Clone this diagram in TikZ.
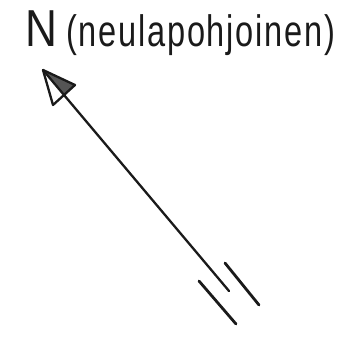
\documentclass[tikz,border=0pt]{standalone}
\usepackage{fontspec}
\setmainfont{Liberation Sans}
\newfontfamily\mapfont[LetterSpace=4,FakeStretch=0.74]{Liberation Sans}
\newfontfamily\capfont[FakeStretch=0.85]{Liberation Sans}
\usetikzlibrary{calc}
\definecolor{MapInk}{HTML}{1A1A1A}
\definecolor{MapFill}{HTML}{555555}
\tikzset{
  map/label/.style={inner sep=0pt, text=MapInk},
  map/needle/.style={draw=MapInk, line width=2.3pt, line cap=round, line join=round},
  map/tick/.style={draw=MapInk, line width=2.8pt, line cap=round}
}

\begin{document}
\begin{tikzpicture}[x=1pt,y=-1pt]
  \useasboundingbox (0,0) rectangle (350,337);
  % heading
  \node[map/label,anchor=base west,font=\capfont\fontsize{52}{52}\selectfont] (north) at (25,47) {N};
  \node[map/label,anchor=base west,font=\mapfont\fontsize{44}{44}\selectfont] (kind) at (66,47)
    {(neulapohjoinen)};
  % needle
  \coordinate (tip) at (43,70);
  \coordinate (wingA) at (75,85);
  \coordinate (wingB) at (53,105);
  \coordinate (mid) at ($(wingA)!.5!(wingB)$);
  \coordinate (tail) at (229,291);
  \fill[MapFill] (tip) -- (wingA) -- (mid) -- cycle;
  \draw[map/needle] (tip) -- (wingA) -- (wingB) -- cycle;
  \draw[map/needle] (tip) -- (tail);
  % break marks
  \coordinate (t1a) at (199,281);
  \coordinate (t1b) at (236,324);
  \coordinate (t2a) at (225,263);
  \coordinate (t2b) at (259,305);
  \draw[map/tick] (t1a) -- (t1b);
  \draw[map/tick] (t2a) -- (t2b);
\end{tikzpicture}
\end{document}
